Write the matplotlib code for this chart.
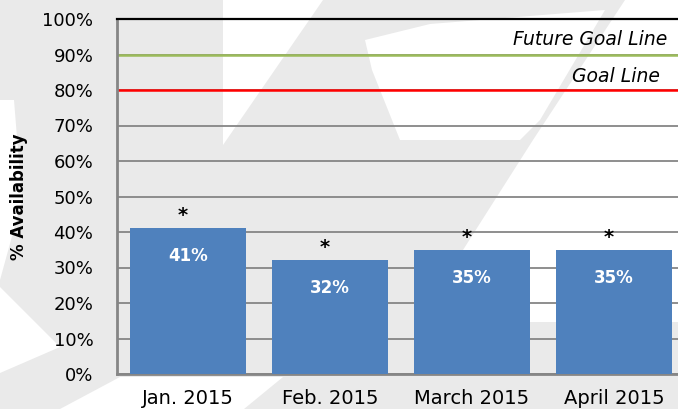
import matplotlib
matplotlib.use("Agg")
import matplotlib.pyplot as plt
from matplotlib.patches import Polygon

# chart data
months = ["Jan. 2015", "Feb. 2015", "March 2015", "April 2015"]
availability = [0.41, 0.32, 0.35, 0.35]
value_labels = ["41%", "32%", "35%", "35%"]
y_ticks = [0.0, 0.1, 0.2, 0.3, 0.4, 0.5, 0.6, 0.7, 0.8, 0.9, 1.0]
goal = 0.80
future_goal = 0.90

W, H = 678, 409
plt.rcParams["font.family"] = ["DejaVu Sans"]

fig = plt.figure(figsize=(W / 100, H / 100), dpi=100)
fig.patch.set_facecolor("#eaeaea")


def px(points):
    """pixel coords (y down) -> figure fraction"""
    return [(x / W, 1 - y / H) for x, y in points]


# faint watermark in the background (white cut-outs on grey)
for shape in [
    [(223, 0), (323, 0), (223, 145)],
    [(625, 0), (678, 0), (678, 322), (452, 322), (463, 250), (533, 140)],
    [(365, 40), (430, 24), (605, 10), (540, 120), (520, 140), (400, 140), (372, 70)],
    [(0, 100), (14, 100), (22, 200), (0, 280)],
    [(0, 287), (60, 347), (0, 373)],
    [(60, 409), (244, 409), (283, 377), (120, 377)],
]:
    fig.patches.append(Polygon(px(shape), closed=True, transform=fig.transFigure,
                               facecolor="white", edgecolor="none", zorder=-5))

ax = fig.add_axes([117 / W, 35 / H, 568 / W, 355 / H])
ax.set_facecolor("none")

x = range(len(months))
bars = ax.bar(x, availability, width=0.82, color="#4f81bd", zorder=3)
ax.set_xlim(-0.5, len(months) - 0.5)
ax.set_ylim(0, 1)

ax.set_yticks(y_ticks)
ax.set_yticklabels([f"{int(round(t * 100))}%" for t in y_ticks])
ax.set_xticks(list(x))
ax.set_xticklabels(months)
ax.tick_params(axis="both", length=0, colors="black")
ax.tick_params(axis="y", pad=17, labelsize=13)
ax.tick_params(axis="x", pad=11, labelsize=14)

ax.yaxis.grid(True, color="#868686", linewidth=1.3, zorder=1)
ax.set_axisbelow(True)
for side in ["left", "bottom"]:
    ax.spines[side].set_color("#868686")
    ax.spines[side].set_linewidth(2)
ax.spines["right"].set_visible(False)
ax.spines["top"].set_color("black")
ax.spines["top"].set_linewidth(1.6)

ax.axhline(future_goal, color="#9bbb59", linewidth=1.8, zorder=2)
ax.axhline(goal, color="#ff0000", linewidth=1.8, zorder=2)
ax.annotate("Future Goal Line", xy=(0.968, future_goal), xycoords=("axes fraction", "data"),
            xytext=(0, 4), textcoords="offset points", ha="right", va="bottom",
            style="italic", fontsize=13.5)
ax.annotate("Goal Line", xy=(0.956, goal), xycoords=("axes fraction", "data"),
            xytext=(0, 3), textcoords="offset points", ha="right", va="bottom",
            style="italic", fontsize=13.5)

for bar, lab in zip(bars, value_labels):
    cx = bar.get_x() + bar.get_width() / 2
    top = bar.get_height()
    ax.annotate(lab, xy=(cx, top), xytext=(0, -20), textcoords="offset points",
                ha="center", va="center", color="white", fontweight="bold", fontsize=12)
    ax.annotate("*", xy=(cx, top), xytext=(-4, 9), textcoords="offset points",
                ha="center", va="center", color="black", fontweight="bold", fontsize=14)

fig.text(19 / W, 1 - 197 / H, "% Availability", rotation=90, ha="center", va="center",
         fontweight="bold", fontsize=12)

fig.savefig("out.png", dpi=100, facecolor=fig.get_facecolor())
